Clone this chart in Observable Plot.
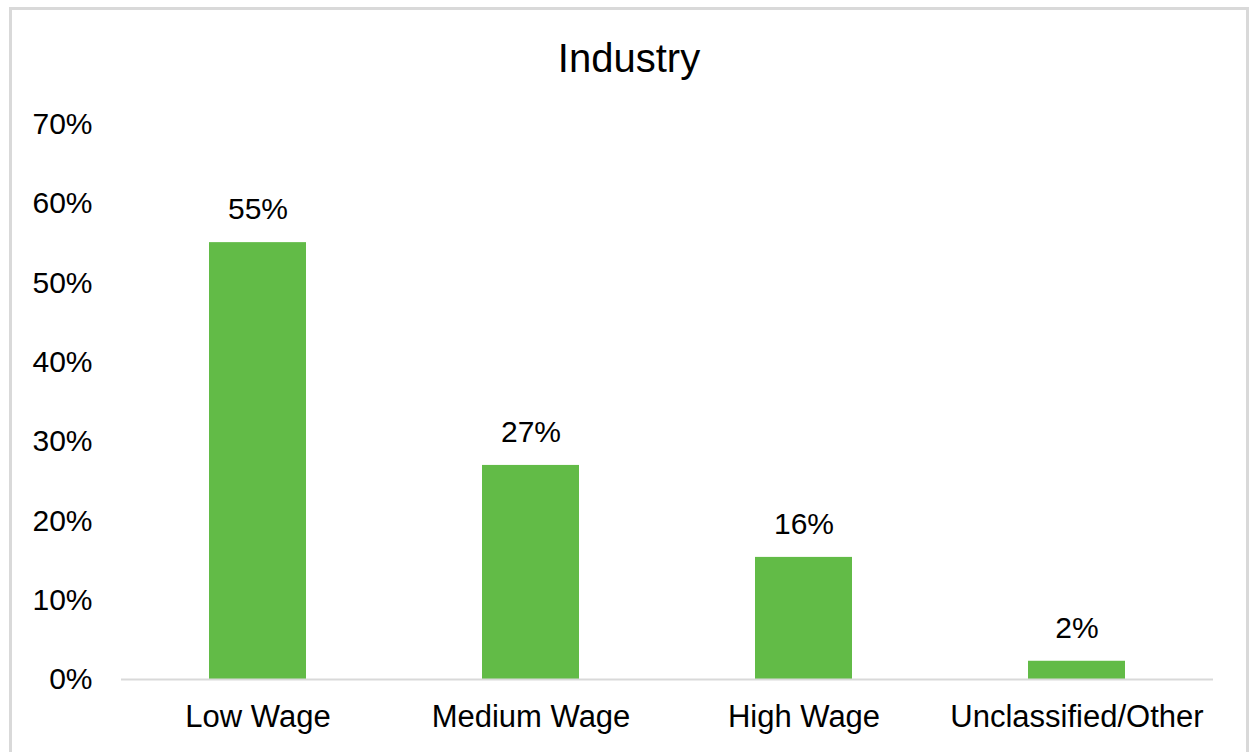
<!DOCTYPE html>
<html>
<head>
<meta charset="utf-8">
<script src="https://cdn.jsdelivr.net/npm/d3@7"></script>
<script src="https://cdn.jsdelivr.net/npm/@observablehq/plot@0.6"></script>
<style>
  html, body { margin: 0; padding: 0; background: #fff; overflow: hidden; }
  #chart { position: absolute; left: 0; top: 0; }
  #frame { position: absolute; left: 9px; top: 7px; width: 1234px; height: 760px;
           border: 3px solid #d9d9d9; border-bottom: none; pointer-events: none; }
  #title { position: absolute; left: 9px; width: 1240px; top: 38px; text-align: center;
           font-family: "Liberation Sans", Arial, sans-serif; font-size: 40px; line-height: 40px; color: #000; }
</style>
</head>
<body>
<div id="chart"></div>
<div id="title">Industry</div>
<div id="frame"></div>
<script>
const categories = ["Low Wage", "Medium Wage", "High Wage", "Unclassified/Other"];
const values = [55.1, 27.0, 15.4, 2.3];
const valueLabels = ["55%", "27%", "16%", "2%"];
const yTicks = [0, 10, 20, 30, 40, 50, 60, 70];

const data = categories.map((c, i) => ({category: c, value: values[i], label: valueLabels[i]}));

const chart = Plot.plot({
  width: 1249,
  height: 752,
  marginTop: 124,
  marginBottom: 73,
  marginLeft: 121,
  marginRight: 36,
  style: {background: "none", fontFamily: "'Liberation Sans', Arial, sans-serif", fontSize: "30px", color: "#000"},
  x: {domain: categories, paddingInner: 0.645, paddingOuter: 0.3225, label: null},
  y: {domain: [0, 70], label: null},
  marks: [
    Plot.axisY({ticks: yTicks, tickSize: 0, tickPadding: 29, tickFormat: d => d + "%", fontSize: 30, fill: "#000", label: null}),
    Plot.axisX({tickSize: 0, tickPadding: 25, fontSize: 31, fill: "#000", label: null}),
    Plot.barY(data, {x: "category", y: "value", fill: "#62bb47"}),
    Plot.ruleY([0], {stroke: "#d9d9d9", strokeWidth: 2}),
    Plot.text(data, {x: "category", y: "value", text: "label", dy: -33, fontSize: 30, fill: "#000"})
  ]
});
document.getElementById("chart").appendChild(chart);
</script>
</body>
</html>
